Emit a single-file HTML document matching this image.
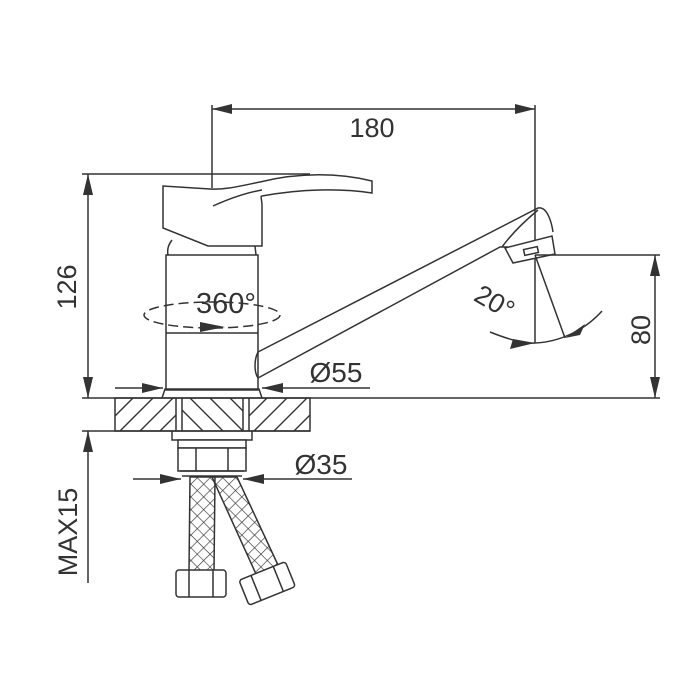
<!DOCTYPE html>
<html><head><style>html,body{margin:0;padding:0;background:#fff}svg{display:block}text{font-family:"Liberation Sans",sans-serif;fill:#333}</style></head><body>
<svg width="700" height="700" viewBox="0 0 700 700" xmlns="http://www.w3.org/2000/svg">
<defs>
<clipPath id="cl"><rect x="115" y="398" width="61" height="33"/><rect x="249" y="398" width="61" height="33"/></clipPath>
<clipPath id="cm"><rect x="182" y="398" width="61" height="33"/></clipPath>
<pattern id="x" width="9" height="9" patternUnits="userSpaceOnUse" patternTransform="rotate(45)"><path d="M0 0H9M0 0V9" stroke="#333" stroke-width="1.3" fill="none"/></pattern>
</defs>
<g stroke="#333" stroke-width="1.5" fill="none">
<line x1="212" y1="109" x2="535" y2="109"/>
<line x1="212" y1="105" x2="212" y2="188"/>
<line x1="535" y1="105" x2="535" y2="343"/>
<line x1="82" y1="174" x2="310" y2="174"/>
<line x1="88" y1="174" x2="88" y2="398"/>
<line x1="82" y1="398" x2="660" y2="398"/>
<g clip-path="url(#cl)" stroke-width="1.4">
<path d="M100 431L133 398M120 431L153 398M140 431L173 398M160 431L193 398M234 431L267 398M254 431L287 398M274 431L307 398M294 431L327 398"/>
</g>
<g clip-path="url(#cm)" stroke-width="1.4">
<path d="M170 398L203 431M190 398L223 431M210 398L243 431M230 398L263 431"/>
</g>
<rect x="115" y="398" width="195" height="33"/>
<line x1="82" y1="431" x2="310" y2="431"/>
<line x1="176" y1="398" x2="176" y2="431"/><line x1="182" y1="398" x2="182" y2="431"/>
<line x1="243" y1="398" x2="243" y2="431"/><line x1="249" y1="398" x2="249" y2="431"/>
<line x1="88" y1="431" x2="88" y2="583"/>
<path d="M163 186 L163 228 L208 246 L262 246 L262 205 C262 200 260 196 262 196 C300 189 340 188 372 193 L372 181 C340 173 300 172 260 182 C240 186 225 190 210 189 Z" fill="#fff"/>
<path d="M213 206 C235 196 250 192 262 190"/>
<path d="M172 240 C168 245 167 250 168 255"/>
<path d="M255 246 L256 255"/>
<rect x="166" y="255" width="92" height="135" fill="#fff"/>
<line x1="166" y1="333" x2="258" y2="333"/>
<path d="M162 398 L165 389 L259 389 L262 398"/>
<path d="M258 352 L538 208 C548 206 552 225 553 232"/>
<path d="M258 378 C254 372 254 360 258 352"/>
<path d="M258 378 L500 247 L508 247"/>
<path d="M502 247 C510 236 520 225 538 210"/>
<path d="M505 248 L552 236 L555 254 L513 263 Z" fill="#fff"/>
<rect x="524" y="248" width="14" height="6" transform="rotate(-12 531 251)"/>
<line x1="535" y1="255" x2="565" y2="338"/>
<path d="M490 332 C510 340 525 344 535 343 C560 342 585 330 602 311"/>
<line x1="535" y1="255" x2="660" y2="255"/>
<line x1="655" y1="255" x2="655" y2="398"/>
<line x1="115" y1="388" x2="163" y2="388"/>
<line x1="262" y1="388" x2="370" y2="388"/>
<ellipse cx="212" cy="315" rx="68" ry="13" stroke-dasharray="10 5" fill="none"/>
<path d="M172 431 L172 440 L252 440 L252 431"/>
<rect x="178" y="440" width="68" height="8" fill="#fff"/>
<rect x="178" y="448" width="68" height="23" fill="#fff"/>
<line x1="196" y1="448" x2="196" y2="471"/><line x1="228" y1="448" x2="228" y2="471"/>
<line x1="180" y1="471" x2="244" y2="471"/>
<line x1="182" y1="476" x2="242" y2="476"/>
<line x1="133" y1="479" x2="181" y2="479"/>
<line x1="243" y1="479" x2="352" y2="479"/>
<path d="M190 477 L215 477 L214 572 L189 572 Z" fill="url(#x)"/>
<path d="M212 477 L237 477 L278 565 L256 574 Z" fill="url(#x)"/>
<rect x="176" y="570" width="50" height="27" rx="3" fill="#fff"/>
<line x1="189" y1="570" x2="189" y2="597"/><line x1="213" y1="570" x2="213" y2="597"/>
<g transform="rotate(-22 267 583)">
<rect x="242" y="570" width="50" height="27" rx="3" fill="#fff"/>
<line x1="255" y1="570" x2="255" y2="597"/><line x1="279" y1="570" x2="279" y2="597"/>
</g>
</g>
<g fill="#333">
<path d="M212 109 L232 104 L232 114Z"/><path d="M535 109 L515 104 L515 114Z"/>
<path d="M88 174 L83 195 L93 195Z"/><path d="M88 398 L83 377 L93 377Z"/>
<path d="M88 431 L83 452 L93 452Z"/>
<path d="M655 255 L650 276 L660 276Z"/><path d="M655 398 L650 377 L660 377Z"/>
<path d="M163 388 L142 383 L142 393Z"/><path d="M262 388 L283 383 L283 393Z"/>
<path d="M181 479 L160 474 L160 484Z"/><path d="M243 479 L264 474 L264 484Z"/>
<path d="M535 343 L513 339 L510 349Z"/><path d="M565 338 L585 324 L580 335Z"/>
<path d="M225 327 L200 322 L200 332Z"/>
</g>
<text x="372" y="137" font-size="27" text-anchor="middle">180</text>
<text x="226" y="313" font-size="29" text-anchor="middle">360°</text>
<text x="336" y="382" font-size="28" text-anchor="middle">Ø55</text>
<text x="321" y="474" font-size="28" text-anchor="middle">Ø35</text>
<text transform="translate(76 287) rotate(-90)" font-size="27" text-anchor="middle">126</text>
<text transform="translate(77 532) rotate(-90)" font-size="27" text-anchor="middle">MAX15</text>
<text transform="translate(650 330) rotate(-90)" font-size="27" text-anchor="middle">80</text>
<text transform="translate(490 310) rotate(30)" font-size="27" text-anchor="middle">20°</text>
</svg>
</body></html>
